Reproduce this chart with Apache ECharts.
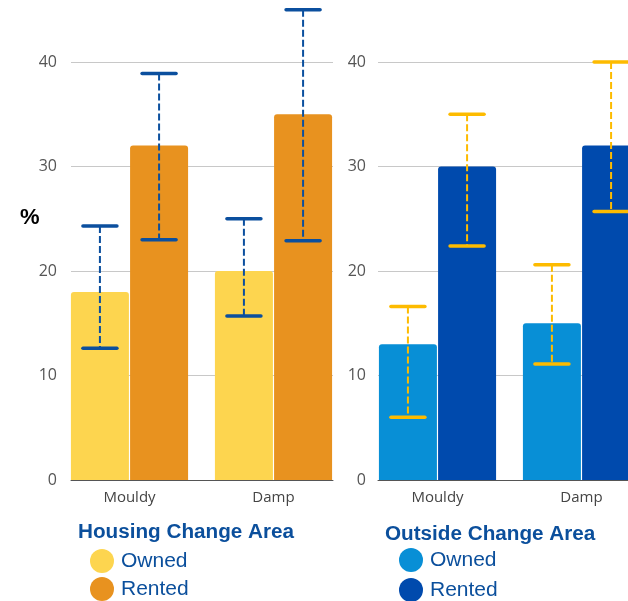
<!DOCTYPE html>
<html><head><meta charset="utf-8">
<script src="https://cdn.jsdelivr.net/npm/echarts@6/dist/echarts.min.js"></script>
<style>html,body{margin:0;padding:0;background:#fff}#c{width:628px;height:601px}</style>
</head><body><div id="c"></div>
<script>
const categories = ['Mouldy', 'Damp'];
const seriesNames = ['Owned', 'Rented'];
const panelTitles = ['Housing Change Area', 'Outside Change Area'];
const housingOwned = [18, 20];
const housingOwnedLow = [12.6, 15.7];
const housingOwnedHigh = [24.3, 25.0];
const housingRented = [32, 35];
const housingRentedLow = [23.0, 22.9];
const housingRentedHigh = [38.9, 45.0];
const outsideOwned = [13, 15];
const outsideOwnedLow = [6.0, 11.1];
const outsideOwnedHigh = [16.6, 20.6];
const outsideRented = [30, 32];
const outsideRentedLow = [22.4, 25.7];
const outsideRentedHigh = [35.0, 40.0];

const C = {
  yellow: '#FDD54F', orange: '#E8921F', lightBlue: '#088FD6', darkBlue: '#004AAD',
  errBlue: '#0B4F9E', errYellow: '#FDBB00', title: '#0B4F9C'
};
const BAR_W = 58, GAP_PCT = 2;
const HALF = (BAR_W + BAR_W * GAP_PCT / 100) / 2;

function errSeries(name, xi, yi, low, high, color, offset) {
  return {
    name: name, type: 'custom', xAxisIndex: xi, yAxisIndex: yi, clip: false, z: 10,
    encode: { x: 0, y: [1, 2] },
    data: categories.map((c, i) => [i, low[i], high[i]]),
    renderItem: function (params, api) {
      const x = api.coord([api.value(0), 0])[0] + offset;
      const yl = api.coord([api.value(0), api.value(1)])[1];
      const yh = api.coord([api.value(0), api.value(2)])[1];
      const cap = 17;
      return { type: 'group', children: [
        { type: 'line', shape: { x1: x, y1: yh, x2: x, y2: yl }, style: { stroke: color, lineWidth: 2, lineDash: [7, 3] } },
        { type: 'line', shape: { x1: x - cap, y1: yh, x2: x + cap, y2: yh }, style: { stroke: color, lineWidth: 3.5, lineCap: 'round' } },
        { type: 'line', shape: { x1: x - cap, y1: yl, x2: x + cap, y2: yl }, style: { stroke: color, lineWidth: 3.5, lineCap: 'round' } }
      ]};
    }
  };
}
function barSeries(name, xi, yi, data, color) {
  return { name: name, type: 'bar', xAxisIndex: xi, yAxisIndex: yi, data: data,
    barWidth: BAR_W, barGap: GAP_PCT + '%',
    itemStyle: { color: color, borderRadius: [3, 3, 0, 0] } };
}
const labelFont = 'Open Sans';
const barX = (gi) => ({ gridIndex: gi, type: 'category', data: categories,
  axisLine: { show: false }, axisTick: { show: false },
  axisLabel: { fontSize: 15, color: '#444', margin: 10, fontFamily: labelFont } });
const frameX = (gi) => ({ gridIndex: gi, type: 'category', data: categories,
  axisLine: { show: true, lineStyle: { color: '#555', width: 1 } }, axisTick: { show: false },
  axisLabel: { show: false } });
const barY = (gi) => ({ gridIndex: gi, type: 'value', min: 0, max: 40, interval: 10, show: false });
const frameY = (gi, m) => ({ gridIndex: gi, type: 'value', min: 0, max: 40, interval: 10,
  axisLine: { show: false }, axisTick: { show: false },
  axisLabel: { fontSize: 16, color: '#555', margin: m, fontFamily: labelFont },
  splitLine: { lineStyle: { color: '#c8c8c8', width: 1 } } });

const titleStyle = { fontSize: 20.7, fontWeight: 'bold', color: C.title, fontFamily: 'Liberation Sans' };
const legendBase = { orient: 'vertical', itemWidth: 24, itemHeight: 24, icon: 'circle', padding: 0, height: 70,
  textStyle: { fontSize: 21, color: C.title, fontFamily: 'Liberation Sans', padding: [0, 0, 0, 2] } };

const gridBase = { top: 62, height: 418, outerBoundsMode: 'none', containLabel: false };
const option = {
  animation: false,
  backgroundColor: '#fff',
  title: [
    { text: panelTitles[0], left: 78, top: 522, padding: 0, textStyle: titleStyle },
    { text: panelTitles[1], left: 385, top: 524, padding: 0, textStyle: titleStyle },
    { text: '%', left: 20, top: 207, padding: 0, textStyle: { fontSize: 22, fontWeight: 'bold', color: '#000', fontFamily: 'Liberation Sans' } }
  ],
  legend: [
    Object.assign({}, legendBase, { left: 90, top: 549, itemGap: 4,
      data: [{ name: seriesNames[0], itemStyle: { color: C.yellow } }, { name: seriesNames[1], itemStyle: { color: C.orange } }] }),
    Object.assign({}, legendBase, { left: 399, top: 548, itemGap: 6,
      data: [{ name: seriesNames[0], itemStyle: { color: C.lightBlue } }, { name: seriesNames[1], itemStyle: { color: C.darkBlue } }] })
  ],
  grid: [
    Object.assign({ left: 57.5, width: 288 }, gridBase),
    Object.assign({ left: 71, width: 262 }, gridBase),
    Object.assign({ left: 365.5, width: 288 }, gridBase),
    Object.assign({ left: 378, width: 300 }, gridBase)
  ],
  xAxis: [barX(0), frameX(1), barX(2), frameX(3)],
  yAxis: [barY(0), frameY(1, 14), barY(2), frameY(3, 12)],
  series: [
    barSeries(seriesNames[0], 0, 0, housingOwned, C.yellow),
    barSeries(seriesNames[1], 0, 0, housingRented, C.orange),
    barSeries(seriesNames[0], 2, 2, outsideOwned, C.lightBlue),
    barSeries(seriesNames[1], 2, 2, outsideRented, C.darkBlue),
    errSeries('Housing Owned CI', 0, 0, housingOwnedLow, housingOwnedHigh, C.errBlue, -HALF),
    errSeries('Housing Rented CI', 0, 0, housingRentedLow, housingRentedHigh, C.errBlue, HALF),
    errSeries('Outside Owned CI', 2, 2, outsideOwnedLow, outsideOwnedHigh, C.errYellow, -HALF),
    errSeries('Outside Rented CI', 2, 2, outsideRentedLow, outsideRentedHigh, C.errYellow, HALF)
  ]
};
const chart = echarts.init(document.getElementById('c'), null, { renderer: 'canvas' });
chart.setOption(option);
</script>
</body></html>
